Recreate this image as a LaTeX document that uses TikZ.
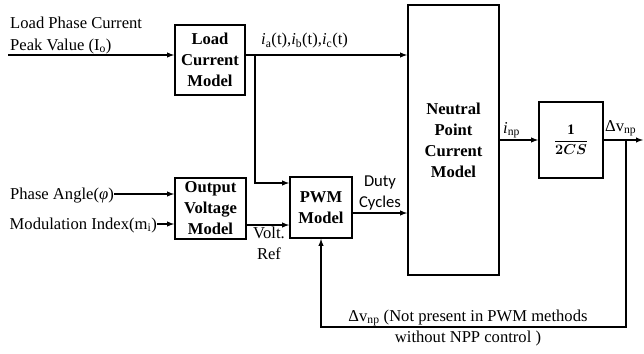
\documentclass[tikz,border=0pt]{standalone}
\usepackage{amsmath}
\usepackage{bm}
\usepackage{fontspec}
\setmainfont{Liberation Serif}
\newfontfamily\dutyfont{Carlito}
\usepackage{tikz}
\usetikzlibrary{shapes,arrows,positioning,calc}
\tikzset{
  block/.style={draw,line width=1.8pt,align=center,inner sep=1pt,font=\bfseries},
  label/.style={inner sep=0pt,align=left},
  conn/.style={line width=1.4pt,->,>=latex},
  wire/.style={line width=1.4pt}
}
\begin{document}
\begin{tikzpicture}[x=1pt,y=-1pt]
\fontsize{16.6}{21}\selectfont
\useasboundingbox (0,0) rectangle (644,353);
\node[block,minimum width=70pt,minimum height=70pt] (lcm) at (210,60) {Load\\Current\\Model};
\node[block,minimum width=71pt,minimum height=61pt] (ovm) at (210.5,208.5) {Output\\Voltage\\Model};
\node[block,minimum width=62pt,minimum height=61pt] (pwm) at (321,207.5) {PWM\\Model};
\node[block,minimum width=91pt,minimum height=270pt] (npc) at (453.5,140) {Neutral\\Point\\Current\\Model};
\node[block,minimum width=64pt,minimum height=76pt,font=\fontsize{14.5}{18}\selectfont] (gain) at (571,140) {$\dfrac{\mathbf{1}}{\bm{2CS}}$};
\node[label,anchor=base west] (lpc) at (10,50) {Load Phase Current\\Peak Value (I\textsubscript{o})};
\node[label,anchor=base east] (pa) at (114,199) {Phase Angle(\textit{φ})};
\node[label,anchor=base east] (mi) at (157,229) {Modulation Index(m\textsubscript{i})};
\node[label,anchor=base west] (iabc) at (261,45) {\textit{i}\textsubscript{a}(t),\textit{i}\textsubscript{b}(t),\textit{i}\textsubscript{c}(t)};
\node[label,anchor=base,align=center] (vref) at (269,259) {Volt.\\Ref};
\node[label,anchor=base,align=center,font=\dutyfont] (duty) at (380,207) {Duty\\Cycles};
\node[label,anchor=base west] (inp) at (503,133) {\textit{i}\textsubscript{np}};
\node[label,anchor=base west] (dvnp) at (605,131) {Δv\textsubscript{np}};
\node[label,anchor=base,align=center] (note) at (468,342) {Δv\textsubscript{np} (Not present in PWM methods\\without NPP control )};
\coordinate (in1) at (8,55);
\coordinate (br1) at (255,55);
\coordinate (out1) at (643,140);
\coordinate (br2) at (626,140);
\coordinate (fb) at (321,327);
\draw[conn] (in1) -- (in1 -| lcm.west);
\draw[conn] (lcm.east |- in1) -- (npc.west |- in1);
\draw[conn] (br1) |- (pwm.west |- 0,183);
\draw[conn] (pa.east |- 0,194) -- (ovm.west |- 0,194);
\draw[conn] (mi.east |- 0,224) -- (ovm.west |- 0,224);
\draw[conn] (ovm.east |- 0,225) -- (pwm.west |- 0,225);
\draw[conn] (pwm.east |- 0,213) -- (npc.west |- 0,213);
\draw[conn] (npc.east |- gain.west) -- (gain.west);
\draw[conn] (gain.east) -- (out1);
\draw[conn] (br2) |- (fb) -- (pwm.south);
\end{tikzpicture}
\end{document}
